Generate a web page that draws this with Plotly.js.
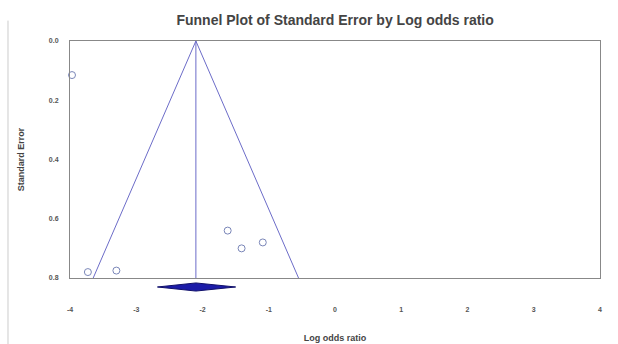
<!DOCTYPE html>
<html><head><meta charset="utf-8">
<script src="https://cdn.plot.ly/plotly-3.0.1.min.js"></script>
<style>html,body{margin:0;padding:0;background:#fff}#c{width:618px;height:344px}</style>
</head><body><div id="c"></div>
<script>
// Study points (log odds ratio, standard error)
const studyLogOR = [-3.97, -3.73, -3.30, -1.62, -1.41, -1.09];
const studySE    = [0.115, 0.780, 0.775, 0.640, 0.700, 0.680];
// Pooled estimate and funnel
const pooledEst = -2.10;
const pooledLow = -2.68;
const pooledHigh = -1.50;
const funnelSEMax = 0.80;
const funnelLeftAtMax = -3.65;
const funnelRightAtMax = -0.55;
const xTicks = [-4, -3, -2, -1, 0, 1, 2, 3, 4];
const yTicks = [0.0, 0.2, 0.4, 0.6, 0.8];

const lineCol = '#6c6cc8';
const traces = [
  {x: [funnelLeftAtMax, pooledEst, funnelRightAtMax], y: [funnelSEMax, 0, funnelSEMax],
   mode: 'lines', line: {color: lineCol, width: 1}, xaxis: 'x', yaxis: 'y', hoverinfo: 'skip'},
  {x: [pooledEst, pooledEst], y: [0, funnelSEMax], mode: 'lines',
   line: {color: lineCol, width: 1}, xaxis: 'x', yaxis: 'y', hoverinfo: 'skip'},
  {x: studyLogOR, y: studySE, mode: 'markers', xaxis: 'x', yaxis: 'y', cliponaxis: false,
   marker: {symbol: 'circle-open', size: 7, color: '#7a86b8', line: {width: 1}}},
  {x: [pooledLow, pooledEst, pooledHigh, pooledEst, pooledLow], y: [0, 0.45, 0, -0.45, 0],
   mode: 'lines', fill: 'toself', fillcolor: '#1c1ca8', line: {color: '#10106a', width: 1},
   xaxis: 'x', yaxis: 'y2', hoverinfo: 'skip'}
];

const fam = 'Liberation Sans, Arial, sans-serif';
const tickFont = {family: fam, size: 7, color: '#555', weight: 'bold'};
const layout = {
  width: 618, height: 344,
  margin: {l: 70, r: 18, t: 41, b: 48},
  paper_bgcolor: '#fff', plot_bgcolor: 'rgba(0,0,0,0)',
  showlegend: false,
  title: {text: 'Funnel Plot of Standard Error by Log odds ratio',
          font: {family: fam, size: 14, color: '#444', weight: 'bold'},
          x: 0.5423, xanchor: 'center', y: 0.942, yanchor: 'middle'},
  xaxis: {range: [-4, 4], tickvals: xTicks, ticktext: xTicks.map(String), anchor: 'y',
          showline: true, linecolor: '#888', linewidth: 1, mirror: true, showgrid: false, zeroline: false,
          ticks: '', tickfont: tickFont, ticklabelstandoff: 25,
          title: {text: 'Log odds ratio', font: {family: fam, size: 9, color: '#444', weight: 'bold'}, standoff: 22}},
  yaxis: {range: [0.8, 0], domain: [0.0706, 1], tickvals: yTicks, ticktext: yTicks.map(v => v.toFixed(1)),
          showline: true, linecolor: '#888', linewidth: 1, mirror: true, showgrid: false, zeroline: false,
          ticks: '', tickfont: tickFont, ticklabelstandoff: 9,
          title: {text: 'Standard Error', font: {family: fam, size: 9, color: '#444', weight: 'bold'}, standoff: 22}},
  yaxis2: {range: [-1, 1], domain: [0, 0.0706], anchor: 'x', visible: false, showgrid: false, zeroline: false},
  shapes: [
    {type: 'line', xref: 'paper', yref: 'paper', x0: -0.117, x1: -0.117, y0: -0.19, y1: 1.08,
     line: {color: '#ccc', width: 1}}
  ]
};
Plotly.newPlot('c', traces, layout, {staticPlot: true});
</script></body></html>
